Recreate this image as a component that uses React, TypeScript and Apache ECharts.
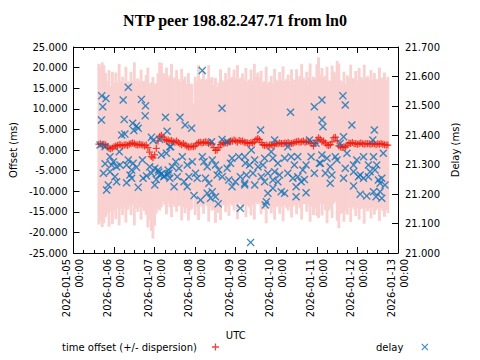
import React, { useEffect, useRef } from "react";
import * as echarts from "echarts";

// ---- data ----
const X_MIN = Date.UTC(2026, 0, 5);
const X_MAX = Date.UTC(2026, 0, 13);
const DAY = 86400000;
const HOUR = 3600000;
const FIRST_HOUR = 15; // first sample: 2026-01-05 15:00 UTC, hourly samples

const offsetMs = [
  1.4, 1.5, 1.3, 1.4, 1.2,
  0.7, 0.4, 0.3, 0.5, 0.8, 1.0,
  1.1, 1.3, 1.2, 1.0, 1.2, 1.3, 1.1, 1.4, 1.6,
  1.7, 1.5, 1.3, 1.2, 1.4, 1.3, 1.2, 1.0, 1.2, 0.6,
  -0.5, -1.6, -1.9, -1.2, 0.4,
  2.2, 3.3, 3.6, 3.1, 2.6,
  2.2, 2.4, 2.1, 2.3, 2.0, 1.9, 2.2,
  1.8, 1.5, 1.3, 1.6, 1.2, 1.0,
  0.8, 0.7, 0.9, 0.8, 1.0,
  1.5, 1.8, 1.9, 1.7, 1.8, 2.0, 1.8, 1.6, 1.8, 1.5,
  0.6, -0.1, 0.0, 0.6,
  1.3, 1.7, 1.6, 1.8, 1.7, 2.0,
  2.2, 2.1, 2.4, 2.2, 1.9, 2.3, 2.1, 2.2, 1.9, 1.8,
  1.7, 1.6, 1.8, 1.7, 2.0,
  2.5, 2.8, 2.5, 1.8,
  1.3, 1.1, 1.2, 1.0, 1.2, 1.3, 1.1, 1.4,
  1.6, 1.5, 1.7, 1.6, 1.5, 1.7, 1.6, 1.8, 1.5, 1.6, 1.7, 1.9,
  2.0, 2.1, 1.9, 2.0, 2.2, 1.9, 2.0, 2.1, 1.8, 1.6,
  1.0, 1.6, 2.4, 3.0, 2.6, 2.0,
  2.2, 1.7, 1.2,
  1.1, 1.3, 2.0,
  3.0, 3.1, 2.2,
  1.0, 0.7, 0.6, 0.8, 0.7, 1.2,
  1.7, 1.6, 1.8,
  1.5, 1.6, 1.4, 1.5, 1.7, 1.5, 1.4, 1.6, 1.5, 1.5, 1.4, 1.6, 1.5, 1.3, 1.5, 1.4, 1.6, 1.4, 1.3, 1.2, 1.2,
];

const dispersionMs = [
  19.5, 18.8, 20.0, 19.2, 17.5, 16.0, 19.0, 15.2, 18.5, 15.5, 17.8, 15.3,
  19.6, 15.4, 16.8, 15.1, 18.9, 15.6, 15.2, 17.4, 15.0, 19.8, 15.5, 16.2,
  15.3, 18.2, 15.4, 15.8, 17.0, 19.4, 16.5, 18.0, 19.6, 17.2, 15.8, 16.4,
  18.0, 17.5, 15.6, 15.9, 17.8, 15.2, 16.0, 18.6, 15.3, 15.7, 17.2, 15.4,
  15.1, 18.4, 15.5, 16.6, 15.0, 17.9, 15.4, 15.2, 10.5, 16.8, 15.3, 18.8,
  15.2, 15.6, 17.3, 15.0, 15.4, 19.0, 15.5, 16.2, 15.1, 17.6, 15.3, 15.8,
  18.3, 15.2, 15.0, 16.9, 15.4, 18.0, 15.3, 15.6, 17.1, 15.2, 18.7, 15.0,
  15.4, 16.4, 15.2, 18.1, 15.0, 15.5, 17.7, 15.1, 18.9, 15.3, 16.0, 15.2,
  17.4, 15.0, 15.6, 19.0, 15.2, 15.4, 16.7, 15.0, 18.3, 15.5, 15.1, 17.2,
  15.3, 18.8, 15.0, 15.6, 16.5, 15.2, 18.0, 15.4, 15.1, 17.6, 15.3, 16.1,
  18.9, 15.4, 15.0, 17.0, 15.5, 19.2, 15.3, 16.8, 15.6, 18.4, 19.5, 15.7,
  17.9, 15.5, 16.3, 19.0, 15.8, 15.4, 18.5, 16.0, 15.6, 19.4, 20.0, 16.2,
  15.8, 18.2, 15.5, 16.9, 15.7, 19.1, 15.6, 15.9, 17.6, 15.5, 18.4, 16.0,
  15.7, 19.3, 15.8, 16.4, 15.6, 18.0, 15.5, 17.2, 15.9, 15.6, 18.6, 15.7,
  16.2, 17.5, 15.8, 16.5,
];

// [hours since 2026-01-05 00:00 UTC, delay in ms]
const delayPoints: [number, number][] = [
  [32.4, 21.563], [16.7, 21.534], [19.2, 21.525], [17.3, 21.497], [29.4, 21.52], [40.2, 21.522],
  [42.6, 21.5], [16.5, 21.452], [30.0, 21.454], [42.4, 21.466], [54.4, 21.461], [35.0, 21.441],
  [37.3, 21.432], [38.3, 21.424], [35.7, 21.416], [28.5, 21.401], [30.4, 21.404], [55.4, 21.414],
  [15.7, 21.367], [18.7, 21.361], [46.1, 21.393], [47.1, 21.382], [51.0, 21.386], [57.0, 21.361],
  [55.0, 21.339], [52.0, 21.333], [21.6, 21.327], [27.1, 21.344], [32.4, 21.316], [40.8, 21.316],
  [23.6, 21.31], [18.7, 21.303], [22.6, 21.299], [25.5, 21.293], [27.5, 21.299], [31.4, 21.299],
  [35.3, 21.305], [37.3, 21.291], [34.4, 21.282], [17.7, 21.271], [21.6, 21.276], [45.1, 21.293],
  [48.1, 21.288], [50.1, 21.282], [52.0, 21.269], [53.4, 21.259], [56.0, 21.282], [43.2, 21.262],
  [41.2, 21.254], [33.4, 21.265], [34.4, 21.254], [24.5, 21.259], [25.5, 21.242], [31.4, 21.239],
  [20.6, 21.231], [19.6, 21.214], [48.1, 21.231], [38.3, 21.223], [57.0, 21.254], [51.0, 21.265],
  [46.1, 21.271], [50.5, 21.275], [53.8, 21.262], [55.5, 21.268], [49.0, 21.25],
  [76.2, 21.62], [87.9, 21.492], [63.0, 21.461], [66.0, 21.435], [69.9, 21.424], [81.7, 21.378],
  [87.9, 21.386], [90.9, 21.378], [57.5, 21.361], [64.4, 21.327], [60.5, 21.31], [58.5, 21.293],
  [62.4, 21.288], [67.3, 21.299], [70.3, 21.31], [76.2, 21.327], [77.2, 21.31], [82.1, 21.316],
  [79.1, 21.293], [84.0, 21.299], [86.0, 21.282], [90.9, 21.288], [92.9, 21.305], [93.8, 21.322],
  [97.8, 21.327], [101.7, 21.305], [56.5, 21.271], [61.4, 21.259], [65.4, 21.242], [67.3, 21.225],
  [72.2, 21.271], [73.2, 21.254], [78.1, 21.254], [80.1, 21.237], [85.0, 21.265], [88.0, 21.259],
  [91.9, 21.248], [93.8, 21.225], [95.8, 21.242], [98.7, 21.259], [101.3, 21.237], [71.3, 21.195],
  [75.2, 21.18], [79.1, 21.203], [82.1, 21.208], [84.0, 21.191], [81.1, 21.186], [85.6, 21.167],
  [98.7, 21.152], [59.5, 21.225], [68.3, 21.259],
  [104.8, 21.036], [128.4, 21.478], [110.7, 21.418], [142.5, 21.497], [119.0, 21.384], [139.6, 21.384],
  [143.5, 21.373], [105.2, 21.35], [117.0, 21.344], [126.8, 21.361], [101.3, 21.327], [107.2, 21.316],
  [113.1, 21.322], [118.0, 21.322], [124.9, 21.322], [128.8, 21.327], [132.7, 21.327], [140.6, 21.327],
  [104.2, 21.299], [109.2, 21.293], [112.1, 21.299], [120.9, 21.305], [130.7, 21.299], [137.6, 21.299],
  [145.5, 21.305], [102.3, 21.265], [106.2, 21.271], [111.1, 21.259], [115.0, 21.271], [119.0, 21.276],
  [121.9, 21.265], [126.8, 21.271], [135.7, 21.282], [142.5, 21.271], [101.3, 21.231], [107.2, 21.231],
  [113.1, 21.242], [118.0, 21.248], [120.9, 21.242], [129.8, 21.254], [132.7, 21.259], [134.7, 21.242],
  [136.6, 21.25], [118.0, 21.22], [124.9, 21.203], [131.7, 21.225], [131.7, 21.191], [137.6, 21.205],
  [115.0, 21.203], [114.1, 21.174], [113.5, 21.163], [122.9, 21.208],
  [147.0, 21.52], [159.4, 21.534], [160.8, 21.503], [147.0, 21.452], [147.6, 21.429], [164.7, 21.435],
  [178.0, 21.418], [177.1, 21.384], [159.8, 21.395], [157.8, 21.373], [183.3, 21.339], [147.0, 21.333],
  [150.0, 21.322], [154.9, 21.327], [161.8, 21.339], [171.6, 21.327], [177.5, 21.327], [146.1, 21.305],
  [155.9, 21.316], [165.7, 21.299], [167.6, 21.316], [174.5, 21.299], [179.4, 21.299], [151.9, 21.293],
  [160.8, 21.288], [149.0, 21.271], [152.9, 21.265], [165.7, 21.276], [169.6, 21.265], [175.5, 21.276],
  [178.4, 21.282], [159.8, 21.254], [168.6, 21.259], [171.6, 21.254], [174.5, 21.259], [180.4, 21.248],
  [182.4, 21.254], [151.9, 21.237], [165.7, 21.228], [181.4, 21.237], [184.3, 21.231], [169.6, 21.2],
  [173.5, 21.194], [177.5, 21.208], [179.0, 21.191], [182.4, 21.186], [181.4, 21.208],
];

const OFFSET_NAME = "time offset (+/- dispersion)";
const DELAY_NAME = "delay";
const TITLE = "NTP peer 198.82.247.71 from ln0";

// ---- styles ----
const FONT = "DejaVu Sans";
const RED = "#ee1a0e";
const BLUE = "#0b72b8";
const PINK = "#f8d1d0";
const PLUS = "path://M4.1,0H5.9V4.1H10V5.9H5.9V10H4.1V5.9H0V4.1H4.1Z";
const CROSS = "path://M0,1.2L1.2,0L5,3.8L8.8,0L10,1.2L6.2,5L10,8.8L8.8,10L5,6.2L1.2,10L0,8.8L3.8,5Z";

const pad = (n: number) => String(n).padStart(2, "0");
const fmtTime = (v: number) => {
  const d = new Date(v);
  return `${d.getUTCFullYear()}-${pad(d.getUTCMonth() + 1)}-${pad(d.getUTCDate())}\n${pad(
    d.getUTCHours()
  )}:${pad(d.getUTCMinutes())}`;
};

export default function App() {
  const ref = useRef<HTMLDivElement>(null);

  useEffect(() => {
    if (!ref.current) return;
    const chart = echarts.init(ref.current, undefined, { renderer: "svg" });

    const times = offsetMs.map((_, i) => X_MIN + (FIRST_HOUR + i) * HOUR);
    const bandData = times.map((t, i) => [t, offsetMs[i] - dispersionMs[i], offsetMs[i] + dispersionMs[i]]);
    const offsetData = times.map((t, i) => [t, offsetMs[i]]);
    const delayData = delayPoints.map(([h, d]) => [X_MIN + h * HOUR, d]);

    const axisLine = { show: true, onZero: false, lineStyle: { color: "#000", width: 1 } };
    const labelStyle = { fontFamily: FONT, fontSize: 10, color: "#000" };
    const tick = { show: true, inside: true, length: 6, lineStyle: { color: "#000" } };
    const minor = { show: true, splitNumber: 4, length: 3, lineStyle: { color: "#000" } };

    chart.setOption({
      animation: false,
      backgroundColor: "#fff",
      title: {
        text: TITLE,
        left: 235,
        top: 12,
        padding: 0,
        textAlign: "center",
        textStyle: { fontFamily: "Liberation Serif", fontWeight: "bold", fontSize: 16, color: "#000" },
      },
      legend: [
        {
          data: [{ name: OFFSET_NAME, icon: PLUS }],
          left: 62,
          top: 342,
          padding: 0,
          align: "right",
          itemWidth: 7,
          itemHeight: 7,
          selectedMode: false,
          textStyle: { ...labelStyle, padding: [0, 10, 0, 0] },
        },
        {
          data: [{ name: DELAY_NAME, icon: CROSS }],
          left: 376,
          top: 342,
          padding: 0,
          align: "right",
          itemWidth: 7,
          itemHeight: 7,
          selectedMode: false,
          textStyle: { ...labelStyle, padding: [0, 13, 0, 0] },
        },
      ],
      grid: { left: 72, right: 82, top: 47, bottom: 107, containLabel: false },
      xAxis: [
        {
          type: "value",
          min: X_MIN,
          max: X_MAX,
          interval: DAY,
          name: "UTC",
          nameLocation: "middle",
          nameGap: 77,
          nameTextStyle: labelStyle,
          axisLine,
          axisTick: tick,
          minorTick: minor,
          splitLine: { show: false },
          axisLabel: { ...labelStyle, rotate: 90, margin: 6, lineHeight: 13, formatter: fmtTime, showMinLabel: true, showMaxLabel: true },
        },
        {
          type: "value",
          position: "top",
          min: X_MIN,
          max: X_MAX,
          interval: DAY,
          axisLine,
          axisTick: tick,
          minorTick: minor,
          splitLine: { show: false },
          axisLabel: { show: false },
        },
      ],
      yAxis: [
        {
          type: "value",
          min: -25,
          max: 25,
          interval: 5,
          name: "Offset (ms)",
          nameLocation: "middle",
          nameRotate: 90,
          nameGap: 53,
          nameTextStyle: labelStyle,
          axisLine,
          axisTick: tick,
          splitLine: { show: false },
          axisLabel: { ...labelStyle, margin: 6, formatter: (v: number) => v.toFixed(3) },
        },
        {
          type: "value",
          position: "right",
          min: 21.0,
          max: 21.7,
          interval: 0.1,
          name: "Delay (ms)",
          nameLocation: "middle",
          nameRotate: 90,
          nameGap: 51,
          nameTextStyle: labelStyle,
          axisLine,
          axisTick: tick,
          splitLine: { show: false },
          axisLabel: { ...labelStyle, margin: 7, formatter: (v: number) => v.toFixed(3) },
        },
      ],
      series: [
        {
          name: "dispersion",
          type: "custom",
          xAxisIndex: 0,
          yAxisIndex: 0,
          data: bandData,
          encode: { x: 0, y: [1, 2] },
          silent: true,
          z: 1,
          renderItem: (params: any, api: any) => {
            const t = api.value(0);
            const top = api.coord([t, api.value(2)]);
            const bot = api.coord([t, api.value(1)]);
            const w = api.size([HOUR, 0])[0];
            return {
              type: "rect",
              shape: { x: top[0] - w / 2 - 0.6, y: top[1], width: w + 1.2, height: bot[1] - top[1] },
              style: { fill: PINK, stroke: null },
            };
          },
        },
        {
          name: OFFSET_NAME,
          type: "scatter",
          xAxisIndex: 0,
          yAxisIndex: 0,
          data: offsetData,
          symbol: PLUS,
          symbolSize: 7,
          itemStyle: { color: RED },
          z: 2,
        },
        {
          name: DELAY_NAME,
          type: "scatter",
          xAxisIndex: 0,
          yAxisIndex: 1,
          data: delayData,
          symbol: CROSS,
          symbolSize: 8,
          itemStyle: { color: BLUE },
          z: 3,
        },
      ],
    });

    return () => chart.dispose();
  }, []);

  return <div ref={ref} style={{ position: "fixed", left: 0, top: 0, width: 480, height: 360 }} />;
}
